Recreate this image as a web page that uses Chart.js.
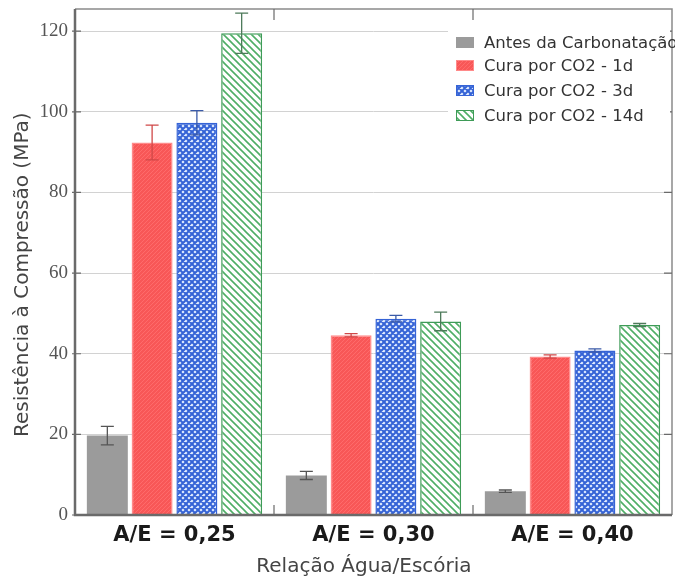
<!DOCTYPE html>
<html>
<head>
<meta charset="utf-8">
<script src="https://cdn.jsdelivr.net/npm/chart.js@4.4.0/dist/chart.umd.min.js"></script>
<style>
  body { margin: 0; background: #fff; }
  #wrap { position: relative; width: 675px; height: 579px; }
  #legend {
    position: absolute; left: 448px; top: 29px; width: 222px; height: 100px;
    background: #fff; font-family: "DejaVu Sans", sans-serif; font-size: 16.5px; color: #333;
  }
  .row { position: absolute; left: 8px; height: 20px; white-space: nowrap; display: flex; align-items: center; }
  .row canvas { margin-right: 10px; }
</style>
</head>
<body>
<div id="wrap">
  <canvas id="chart" width="675" height="579"></canvas>
  <div id="legend"></div>
</div>
<script>
const categories = ['A/E = 0,25', 'A/E = 0,30', 'A/E = 0,40'];
const seriesLabels = ['Antes da Carbonatação', 'Cura por CO2 - 1d', 'Cura por CO2 - 3d', 'Cura por CO2 - 14d'];

const antes = [19.7, 9.8, 5.9];
const antesErr = [2.3, 1.0, 0.3];
const cura1d = [92.4, 44.6, 39.3];
const cura1dErr = [4.3, 0.4, 0.4];
const cura3d = [97.3, 48.7, 40.8];
const cura3dErr = [3.0, 0.8, 0.4];
const cura14d = [119.5, 48.0, 47.1];
const cura14dErr = [5.0, 2.3, 0.4];

const yTicks = [0, 20, 40, 60, 80, 100, 120];

function makePattern(kind) {
  const c = document.createElement('canvas');
  const ctx = c.getContext('2d');
  if (kind === 'gray') {
    c.width = c.height = 4;
    ctx.fillStyle = '#9b9b9b';
    ctx.fillRect(0, 0, 4, 4);
  } else if (kind === 'red') {
    c.width = c.height = 4;
    ctx.fillStyle = '#f85757';
    ctx.fillRect(0, 0, 4, 4);
    ctx.strokeStyle = '#ff7070';
    ctx.lineWidth = 0.8;
    ctx.beginPath();
    ctx.moveTo(-1, 5); ctx.lineTo(5, -1);
    ctx.stroke();
  } else if (kind === 'blue') {
    c.width = c.height = 6;
    ctx.fillStyle = '#e4eeff';
    ctx.fillRect(0, 0, 6, 6);
    ctx.strokeStyle = '#3563d6';
    ctx.lineWidth = 2;
    ctx.beginPath();
    ctx.moveTo(-1, -1); ctx.lineTo(7, 7);
    ctx.moveTo(7, -1); ctx.lineTo(-1, 7);
    ctx.moveTo(-4, 2); ctx.lineTo(2, -4);
    ctx.moveTo(4, 10); ctx.lineTo(10, 4);
    ctx.moveTo(-4, 4); ctx.lineTo(2, 10);
    ctx.moveTo(4, -4); ctx.lineTo(10, 2);
    ctx.stroke();
  } else {
    c.width = c.height = 7;
    ctx.fillStyle = '#ffffff';
    ctx.fillRect(0, 0, 7, 7);
    ctx.strokeStyle = '#4fae66';
    ctx.lineWidth = 1.6;
    ctx.beginPath();
    ctx.moveTo(-1, -1); ctx.lineTo(8, 8);
    ctx.moveTo(-8, -1); ctx.lineTo(1, 8);
    ctx.moveTo(6, -1); ctx.lineTo(15, 8);
    ctx.stroke();
  }
  return c;
}

const patternKinds = ['gray', 'red', 'blue', 'green'];
const borderColors = ['#8a8a8a', '#ff8a8a', '#3563d6', '#3e9b57'];
const errColors = ['#555555', '#d04848', '#3a5aa8', '#4d7a5a'];
const values = [antes, cura1d, cura3d, cura14d];
const errors = [antesErr, cura1dErr, cura3dErr, cura14dErr];

const mainCtx = document.getElementById('chart').getContext('2d');
const patterns = patternKinds.map(k => mainCtx.createPattern(makePattern(k), 'repeat'));

const datasets = values.map((v, i) => ({
  label: seriesLabels[i],
  data: v,
  backgroundColor: patterns[i],
  borderColor: borderColors[i],
  borderWidth: i === 0 ? 0 : 1.5,
  errors: errors[i],
  errColor: errColors[i],
  categoryPercentage: 0.9,
  barPercentage: 0.915
}));

const errorBars = {
  id: 'errorBars',
  afterDatasetsDraw(chart) {
    const ctx = chart.ctx;
    const y = chart.scales.y;
    chart.data.datasets.forEach((ds, i) => {
      const meta = chart.getDatasetMeta(i);
      meta.data.forEach((bar, j) => {
        const top = y.getPixelForValue(ds.data[j] + ds.errors[j]);
        const bot = y.getPixelForValue(ds.data[j] - ds.errors[j]);
        ctx.save();
        ctx.strokeStyle = ds.errColor;
        ctx.lineWidth = 1.3;
        ctx.beginPath();
        ctx.moveTo(bar.x, top); ctx.lineTo(bar.x, bot);
        ctx.moveTo(bar.x - 6.5, top); ctx.lineTo(bar.x + 6.5, top);
        ctx.moveTo(bar.x - 6.5, bot); ctx.lineTo(bar.x + 6.5, bot);
        ctx.stroke();
        ctx.restore();
      });
    });
  }
};

const frame = {
  id: 'frame',
  afterDatasetsDraw(chart) {
    const ctx = chart.ctx;
    const a = chart.chartArea;
    const x = chart.scales.x;
    const y = chart.scales.y;
    ctx.save();
    ctx.strokeStyle = '#8a8a8a';
    ctx.lineWidth = 1.5;
    ctx.beginPath();
    ctx.moveTo(a.left, a.top); ctx.lineTo(a.right, a.top); ctx.lineTo(a.right, a.bottom);
    ctx.stroke();
    ctx.strokeStyle = '#6a6a6a';
    ctx.lineWidth = 2.5;
    ctx.beginPath();
    ctx.moveTo(a.left, a.top); ctx.lineTo(a.left, a.bottom); ctx.lineTo(a.right, a.bottom);
    ctx.stroke();
    ctx.lineWidth = 1.2;
    ctx.beginPath();
    y.ticks.forEach(t => {
      const py = y.getPixelForValue(t.value);
      ctx.moveTo(a.left - 3, py); ctx.lineTo(a.left + 6, py);
      ctx.moveTo(a.right - 8, py); ctx.lineTo(a.right, py);
    });
    for (let i = 0; i < categories.length - 1; i++) {
      const px = (x.getPixelForValue(i) + x.getPixelForValue(i + 1)) / 2;
      ctx.moveTo(px, a.bottom); ctx.lineTo(px, a.bottom - 10);
      ctx.moveTo(px, a.top); ctx.lineTo(px, a.top + 11);
    }
    ctx.stroke();
    ctx.restore();
  }
};

new Chart(mainCtx, {
  type: 'bar',
  data: { labels: categories, datasets: datasets },
  options: {
    responsive: false,
    animation: false,
    layout: { padding: { top: 9, right: 3, left: 0, bottom: 0 } },
    plugins: { legend: { display: false }, tooltip: { enabled: false } },
    scales: {
      x: {
        grid: { display: false, drawTicks: false },
        border: { display: false },
        ticks: {
          padding: 8,
          color: '#1a1a1a',
          font: { family: 'DejaVu Sans', size: 21, weight: 'bold' }
        },
        title: {
          display: true,
          text: 'Relação Água/Escória   ',
          color: '#444',
          font: { family: 'DejaVu Sans', size: 20 },
          padding: { top: 0, bottom: 0 }
        },
        afterFit(s) { s.height = 64; s.paddingLeft = 0; s.paddingRight = 0; }
      },
      y: {
        min: 0,
        max: 125.5,
        grid: { color: '#d2d2d2', lineWidth: 1, drawTicks: false },
        border: { display: false },
        afterBuildTicks(s) { s.ticks = yTicks.map(v => ({ value: v })); },
        ticks: {
          padding: 7,
          color: '#555',
          font: { family: 'Liberation Serif', size: 19 }
        },
        title: {
          display: true,
          text: 'Resistência à Compressão (MPa)    ',
          color: '#444',
          font: { family: 'DejaVu Sans', size: 20 },
          padding: { top: 11, bottom: 0 }
        },
        afterFit(s) { s.width = 75; s.paddingTop = 0; s.paddingBottom = 0; }
      }
    }
  },
  plugins: [errorBars, frame]
});

// legend overlay
const legend = document.getElementById('legend');
const rowCenters = [13, 36, 61, 86];
seriesLabels.forEach((lab, i) => {
  const row = document.createElement('div');
  row.className = 'row';
  row.style.top = (rowCenters[i] - 10) + 'px';
  const sw = document.createElement('canvas');
  sw.width = 18; sw.height = 11;
  const sctx = sw.getContext('2d');
  sctx.fillStyle = sctx.createPattern(makePattern(patternKinds[i]), 'repeat');
  sctx.fillRect(0, 0, 18, 11);
  if (i > 0) {
    sctx.strokeStyle = borderColors[i];
    sctx.lineWidth = 1;
    sctx.strokeRect(0.5, 0.5, 17, 10);
  }
  row.appendChild(sw);
  const span = document.createElement('span');
  span.textContent = lab;
  row.appendChild(span);
  legend.appendChild(row);
});
</script>
</body>
</html>
